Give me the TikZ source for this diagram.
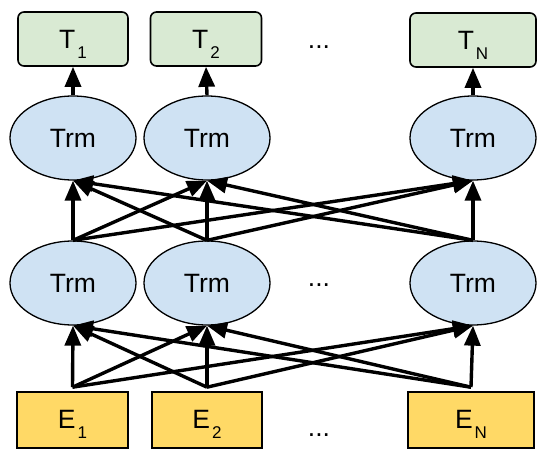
\documentclass[tikz,border=0pt]{standalone}
\usepackage{fontspec}
\setmainfont{Liberation Sans}
\usetikzlibrary{shapes.geometric,arrows.meta}

\definecolor{outgreen}{HTML}{D9EAD3}
\definecolor{trmblue}{HTML}{CFE2F3}
\definecolor{embyellow}{HTML}{FFD966}

\newcommand{\tokname}[2]{#1\hspace{2pt}\raisebox{-10pt}{\fontsize{17}{17}\selectfont #2}}

\begin{document}
\begin{tikzpicture}[x=1pt, y=1pt, font=\fontsize{26.5}{30}\selectfont,
    >={Triangle[length=20pt,width=16pt]},
    outbox/.style={draw, line width=1.6pt, rounded corners=6pt, fill=outgreen,
        minimum height=54pt, text height=19pt, text depth=0pt},
    trm/.style={ellipse, draw, line width=1.3pt, fill=trmblue,
        minimum width=126pt, minimum height=84pt, inner sep=0pt},
    embbox/.style={draw, line width=1.6pt, fill=embyellow,
        minimum height=56pt, text height=18pt, text depth=0pt},
    conn/.style={->, line width=3.4pt}]
    \useasboundingbox (0,0) rectangle (550,461);

    % Ausgabe
    \node[outbox, minimum width=110pt] (t1) at (73,422) {\tokname{T}{1}};
    \node[outbox, minimum width=111pt] (t2) at (206,422) {\tokname{T}{2}};
    \node[outbox, minimum width=126pt] (tn) at (473,421) {\tokname{T}{N}};
    \node (dtop) at (319,414) {...};

    % Transformer-Schichten
    \node[trm] (top1) at (73,323) {Trm};
    \node[trm] (top2) at (207,323) {Trm};
    \node[trm] (topn) at (473,323) {Trm};
    \node[trm] (bot1) at (73,178) {Trm};
    \node[trm] (bot2) at (207,178) {Trm};
    \node[trm] (botn) at (473,178) {Trm};
    \node (dmid) at (319,176) {...};

    % Eingabe
    \node[embbox, minimum width=111pt] (e1) at (72.5,41) {\tokname{E}{1}};
    \node[embbox, minimum width=110pt] (e2) at (207,41) {\tokname{E}{2}};
    \node[embbox, minimum width=126pt] (en) at (471,41) {\tokname{E}{N}};
    \node (dbot) at (319,26) {...};

    % Verbindungen
    \foreach \s in {e1,e2,en}
        \foreach \t in {bot1,bot2,botn}
            \draw[conn] ([yshift=4pt]\s.north) -- (\t.south);
    \foreach \s in {bot1,bot2,botn}
        \foreach \t in {top1,top2,topn}
            \draw[conn] (\s.north) -- (\t.south);
    \foreach \i in {1,2,n}
        \draw[conn] (top\i.north) -- (t\i.south);
\end{tikzpicture}
\end{document}
